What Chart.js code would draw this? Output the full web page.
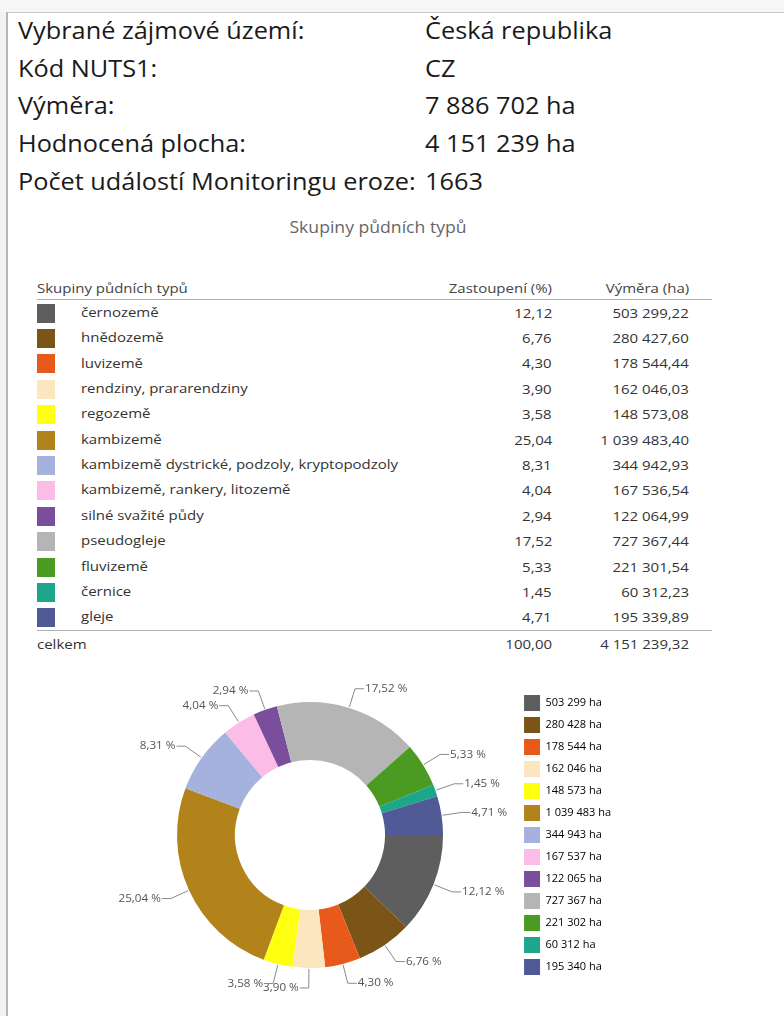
<!DOCTYPE html>
<html lang="cs">
<head>
<meta charset="utf-8">
<script src="https://cdn.jsdelivr.net/npm/chart.js@4.4.1/dist/chart.umd.min.js"></script>
<style>
  body { margin: 0; background: #fff; font-family: "Open Sans", sans-serif; color: #222; }
  #topbar { position: absolute; left: 0; top: 0; width: 784px; height: 12px; background: #f6f6f6; }
  #leftbar { position: absolute; left: 0; top: 12px; width: 6px; height: 1004px; background: #f2f2f2; }
  #frame { position: absolute; left: 6px; top: 12px; width: 790px; height: 1020px; border-top: 1px solid #c9c9c9; border-left: 2px solid #b5b5b5; }
  .info { position: absolute; font-size: 23px; line-height: 38px; white-space: nowrap; color: #1a1a1a; transform: scaleX(1.1); transform-origin: left center; }
  #title { position: absolute; left: 0; width: 756px; top: 216px; text-align: center; font-size: 16px; color: #666; transform: scaleX(1.1); }
  #tbl { position: absolute; left: 37px; top: 276px; border-collapse: collapse; font-size: 13.5px; color: #333; }
  #tbl td, #tbl th { padding: 0; white-space: nowrap; font-weight: normal; }
  #tbl thead th { height: 23px; border-bottom: 1.5px solid #b0b0b0; color: #444; }
  #tbl tbody td { height: 25.4px; }
  #tbl tbody tr:last-child td { border-bottom: 1.5px solid #b0b0b0; }
  #tbl tfoot td { height: 25px; }
  .c1 { width: 400px; text-align: left; }
  .c2 { width: 115px; text-align: right; }
  .c3 { width: 137px; text-align: right; padding-right: 23px !important; }
  .sl { display: inline-block; transform: scaleX(1.11); transform-origin: left center; }
  .sr { display: inline-block; transform: scaleX(1.11); transform-origin: right center; }
  .sw { display: inline-block; width: 18px; height: 19px; vertical-align: middle; margin-right: 26px; }
  #wrap { position: absolute; left: 90px; top: 670px; }
</style>
</head>
<body>
<div id="topbar"></div>
<div id="leftbar"></div>
<div id="frame"></div>

<div class="info" style="left:18px;top:11px">Vybrané zájmové území:</div>
<div class="info" style="left:425px;top:11px">Česká republika</div>
<div class="info" style="left:18px;top:49px">Kód NUTS1:</div>
<div class="info" style="left:425px;top:49px">CZ</div>
<div class="info" style="left:18px;top:86px">Výměra:</div>
<div class="info" style="left:425px;top:86px">7 886 702 ha</div>
<div class="info" style="left:18px;top:124px">Hodnocená plocha:</div>
<div class="info" style="left:425px;top:124px">4 151 239 ha</div>
<div class="info" style="left:18px;top:162px">Počet událostí Monitoringu eroze:</div>
<div class="info" style="left:425px;top:162px">1663</div>

<div id="title">Skupiny půdních typů</div>

<table id="tbl">
  <thead><tr><th class="c1"><span class="sl">Skupiny půdních typů</span></th><th class="c2"><span class="sr">Zastoupení (%)</span></th><th class="c3"><span class="sr">Výměra (ha)</span></th></tr></thead>
  <tbody id="rows"></tbody>
  <tfoot><tr><td class="c1"><span class="sl">celkem</span></td><td class="c2"><span class="sr" id="totPct"></span></td><td class="c3"><span class="sr" id="totHa"></span></td></tr></tfoot>
</table>

<div id="wrap"><canvas id="chart" width="560" height="330"></canvas></div>

<script>
const categories = ["černozemě", "hnědozemě", "luvizemě", "rendziny, prararendziny", "regozemě", "kambizemě",
  "kambizemě dystrické, podzoly, kryptopodzoly", "kambizemě, rankery, litozemě", "silné svažité půdy",
  "pseudogleje", "fluvizemě", "černice", "gleje"];
const shares = [12.12, 6.76, 4.30, 3.90, 3.58, 25.04, 8.31, 4.04, 2.94, 17.52, 5.33, 1.45, 4.71];
const hectares = [503299.22, 280427.60, 178544.44, 162046.03, 148573.08, 1039483.40, 344942.93,
  167536.54, 122064.99, 727367.44, 221301.54, 60312.23, 195339.89];
const colors = ["#5e5e5e", "#7a5517", "#e8591c", "#fce6c0", "#ffff10", "#b3831b", "#a5b2de",
  "#fbbce7", "#7a4e9d", "#b5b5b5", "#4b9a22", "#1ca78a", "#4f5a97"];
const totalShare = 100.00;
const totalHa = 4151239.32;

function fmt(v, dec) {
  const parts = v.toFixed(dec).split(".");
  parts[0] = parts[0].replace(/\B(?=(\d{3})+(?!\d))/g, " ");
  return parts.join(",");
}

// table
const tbody = document.getElementById('rows');
categories.forEach((c, i) => {
  const tr = document.createElement('tr');
  tr.innerHTML = '<td class="c1"><span class="sw" style="background:' + colors[i] + '"></span><span class="sl">' + c + '</span></td>' +
    '<td class="c2"><span class="sr">' + fmt(shares[i], 2) + '</span></td><td class="c3"><span class="sr">' + fmt(hectares[i], 2) + '</span></td>';
  tbody.appendChild(tr);
});
document.getElementById('totPct').textContent = fmt(totalShare, 2);
document.getElementById('totHa').textContent = fmt(totalHa, 2);

// outside labels with leader lines
const outLabels = {
  id: 'outLabels',
  afterDatasetsDraw(chart) {
    const ctx = chart.ctx;
    const meta = chart.getDatasetMeta(0);
    ctx.save();
    ctx.font = '11px "Open Sans"';
    ctx.fillStyle = '#555';
    ctx.strokeStyle = '#8a8a8a';
    ctx.lineWidth = 1;
    ctx.textBaseline = 'middle';
    meta.data.forEach((arc, i) => {
      const p = arc.getProps(['x', 'y', 'startAngle', 'endAngle', 'outerRadius']);
      const a = (p.startAngle + p.endAngle) / 2;
      const cos = Math.cos(a), sin = Math.sin(a);
      const side = cos >= 0 ? 1 : -1;
      const x0 = p.x + (p.outerRadius + 1) * cos, y0 = p.y + (p.outerRadius + 1) * sin;
      const x1 = p.x + (p.outerRadius + 20) * cos, y1 = p.y + (p.outerRadius + 20) * sin;
      const x2 = x1 + side * 9;
      ctx.beginPath();
      ctx.moveTo(x0, y0);
      ctx.lineTo(x1, y1);
      ctx.lineTo(x2, y1);
      ctx.stroke();
      ctx.save();
      ctx.translate(x2 + side * 1, y1);
      ctx.scale(1.06, 1);
      ctx.textAlign = side > 0 ? 'left' : 'right';
      ctx.fillText(fmt(shares[i], 2) + ' %', 0, 0);
      ctx.restore();
    });
    ctx.restore();
  }
};

const chart = new Chart(document.getElementById('chart'), {
  type: 'doughnut',
  data: {
    labels: categories,
    datasets: [{
      data: hectares,
      backgroundColor: colors,
      borderWidth: 0
    }]
  },
  options: {
    responsive: false,
    animation: false,
    rotation: 90,
    radius: 133,
    cutout: '56.4%',
    layout: { padding: { left: 12, right: 29 } },
    plugins: {
      tooltip: { enabled: false },
      legend: {
        position: 'right',
        align: 'center',
        labels: {
          boxWidth: 16,
          boxHeight: 16,
          padding: 6,
          color: '#555',
          font: { family: '"Open Sans"', size: 11 },
          generateLabels: (ch) => hectares.map((v, i) => ({
            text: fmt(v, 0) + ' ha',
            fillStyle: colors[i],
            strokeStyle: colors[i],
            lineWidth: 0,
            hidden: false,
            index: i
          }))
        }
      }
    }
  },
  plugins: [outLabels]
});
</script>
</body>
</html>
